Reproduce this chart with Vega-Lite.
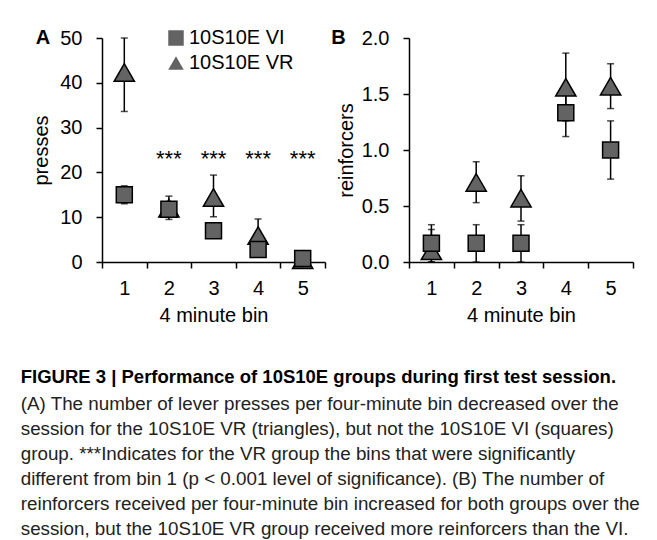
{
  "$schema": "https://vega.github.io/schema/vega-lite/v6.json",
  "background": "white",
  "padding": {"left": 20, "top": 28, "right": 5, "bottom": 5},
  "config": {
    "font": "Liberation Sans",
    "view": {"stroke": null},
    "axis": {
      "domainColor": "black", "tickColor": "black", "labelColor": "black", "titleColor": "black",
      "labelFontSize": 20, "titleFontSize": 20, "titleFontWeight": "normal",
      "labelFont": "Liberation Sans", "titleFont": "Liberation Sans",
      "domainWidth": 1.5, "tickWidth": 1.5, "tickSize": 6, "grid": false
    },
    "legend": {"labelFontSize": 20, "labelFont": "Liberation Sans", "labelColor": "black"}
  },
  "datasets": {
    "presses": [
      {"bin": 1, "group": "10S10E VR", "value": 42.3, "lo": 33.6, "hi": 50.0},
      {"bin": 2, "group": "10S10E VR", "value": 12.0, "lo": 9.5, "hi": 14.7},
      {"bin": 3, "group": "10S10E VR", "value": 14.4, "lo": 10.1, "hi": 19.4},
      {"bin": 4, "group": "10S10E VR", "value": 5.9, "lo": 2.5, "hi": 9.6},
      {"bin": 5, "group": "10S10E VR", "value": 0.5, "lo": 0.0, "hi": 1.2},
      {"bin": 1, "group": "10S10E VI", "value": 15.0, "lo": 13.0, "hi": 17.0},
      {"bin": 2, "group": "10S10E VI", "value": 11.8, "lo": 10.4, "hi": 13.2},
      {"bin": 3, "group": "10S10E VI", "value": 7.0, "lo": 5.8, "hi": 8.2},
      {"bin": 4, "group": "10S10E VI", "value": 2.8, "lo": 1.8, "hi": 3.8},
      {"bin": 5, "group": "10S10E VI", "value": 0.8, "lo": 0.0, "hi": 1.6}
    ],
    "reinforcers": [
      {"bin": 1, "group": "10S10E VR", "value": 0.1, "lo": 0.0, "hi": 0.29},
      {"bin": 2, "group": "10S10E VR", "value": 0.71, "lo": 0.53, "hi": 0.895},
      {"bin": 3, "group": "10S10E VR", "value": 0.57, "lo": 0.365, "hi": 0.77},
      {"bin": 4, "group": "10S10E VR", "value": 1.56, "lo": 1.26, "hi": 1.865},
      {"bin": 5, "group": "10S10E VR", "value": 1.57, "lo": 1.37, "hi": 1.77},
      {"bin": 1, "group": "10S10E VI", "value": 0.167, "lo": 0.0, "hi": 0.333},
      {"bin": 2, "group": "10S10E VI", "value": 0.167, "lo": 0.0, "hi": 0.333},
      {"bin": 3, "group": "10S10E VI", "value": 0.167, "lo": 0.0, "hi": 0.333},
      {"bin": 4, "group": "10S10E VI", "value": 1.333, "lo": 1.12, "hi": 1.55},
      {"bin": 5, "group": "10S10E VI", "value": 1.0, "lo": 0.74, "hi": 1.26}
    ],
    "stars": [
      {"bin": 2, "label": "***"},
      {"bin": 3, "label": "***"},
      {"bin": 4, "label": "***"},
      {"bin": 5, "label": "***"}
    ]
  },
  "title": {
    "text": "FIGURE 3 | Performance of 10S10E groups during first test session.",
    "subtitle": [
      "(A) The number of lever presses per four-minute bin decreased over the",
      "session for the 10S10E VR (triangles), but not the 10S10E VI (squares)",
      "group. ***Indicates for the VR group the bins that were significantly",
      "different from bin 1 (p < 0.001 level of significance). (B) The number of",
      "reinforcers received per four-minute bin increased for both groups over the",
      "session, but the 10S10E VR group received more reinforcers than the VI."
    ],
    "orient": "bottom",
    "anchor": "start",
    "frame": "bounds",
    "font": "Liberation Sans",
    "fontSize": 18.5,
    "fontWeight": "bold",
    "color": "black",
    "subtitleFont": "Liberation Sans",
    "subtitleFontSize": 18.8,
    "subtitleColor": "#222222",
    "subtitleLineHeight": 25,
    "subtitlePadding": 8,
    "offset": 43,
    "dx": -11
  },
  "spacing": 5,
  "resolve": {"scale": {"y": "independent"}, "legend": {"shape": "independent"}},
  "hconcat": [
    {
      "width": 223,
      "height": 224,
      "title": {"text": "A", "anchor": "start", "fontSize": 20, "fontWeight": "bold", "offset": -20, "dx": 4, "color": "black"},
      "data": {"name": "presses"},
      "encoding": {
        "x": {
          "field": "bin", "type": "ordinal",
          "scale": {"type": "band", "paddingInner": 0, "paddingOuter": 0},
          "axis": {"title": "4 minute bin", "labelAngle": 0, "tickBand": "extent", "labelPadding": 10, "titlePadding": 7}
        }
      },
      "layer": [
        {
          "mark": {"type": "rule", "color": "black", "strokeWidth": 1.5},
          "encoding": {
            "y": {"field": "lo", "type": "quantitative"},
            "y2": {"field": "hi"},
            "detail": {"field": "group"}
          }
        },
        {
          "mark": {"type": "tick", "color": "black", "thickness": 1.5, "size": 7, "orient": "horizontal"},
          "encoding": {"y": {"field": "hi", "type": "quantitative"}, "detail": {"field": "group"}}
        },
        {
          "mark": {"type": "tick", "color": "black", "thickness": 1.5, "size": 7, "orient": "horizontal"},
          "encoding": {"y": {"field": "lo", "type": "quantitative"}, "detail": {"field": "group"}}
        },
        {
          "mark": {"type": "point", "filled": true, "fill": "#636363", "stroke": "black", "strokeWidth": 1.5, "opacity": 1},
          "encoding": {
            "y": {
              "field": "value", "type": "quantitative",
              "scale": {"domain": [0, 50], "nice": false},
              "axis": {"title": "presses", "values": [0, 5, 10, 15, 20, 25, 30, 35, 40, 45, 50], "labelExpr": "datum.value % 10 === 0 ? datum.label : ''", "labelPadding": 14, "titlePadding": 8}
            },
            "shape": {
              "field": "group", "type": "nominal",
              "scale": {"domain": ["10S10E VI", "10S10E VR"], "range": ["square", "triangle-up"]},
              "legend": {"title": null, "orient": "none", "legendX": 64, "legendY": -10, "symbolSize": 240, "symbolFillColor": "#636363", "symbolStrokeColor": "black", "symbolStrokeWidth": 1.5, "rowPadding": 4, "labelOffset": 3}
            },
            "size": {
              "field": "group", "type": "nominal",
              "scale": {"domain": ["10S10E VI", "10S10E VR"], "range": [256, 410]},
              "legend": null
            }
          }
        },
        {
          "data": {"name": "stars"},
          "mark": {"type": "text", "fontSize": 22, "color": "black", "baseline": "middle"},
          "encoding": {
            "y": {"datum": 23.0, "type": "quantitative"},
            "text": {"field": "label"}
          }
        }
      ]
    },
    {
      "width": 224,
      "height": 224,
      "title": {"text": "B", "anchor": "start", "fontSize": 20, "fontWeight": "bold", "offset": -20, "dx": -5, "color": "black"},
      "data": {"name": "reinforcers"},
      "encoding": {
        "x": {
          "field": "bin", "type": "ordinal",
          "scale": {"type": "band", "paddingInner": 0, "paddingOuter": 0},
          "axis": {"title": "4 minute bin", "labelAngle": 0, "tickBand": "extent", "labelPadding": 10, "titlePadding": 7}
        }
      },
      "layer": [
        {
          "mark": {"type": "rule", "color": "black", "strokeWidth": 1.5},
          "encoding": {
            "y": {"field": "lo", "type": "quantitative"},
            "y2": {"field": "hi"},
            "detail": {"field": "group"}
          }
        },
        {
          "mark": {"type": "tick", "color": "black", "thickness": 1.5, "size": 7, "orient": "horizontal"},
          "encoding": {"y": {"field": "hi", "type": "quantitative"}, "detail": {"field": "group"}}
        },
        {
          "mark": {"type": "tick", "color": "black", "thickness": 1.5, "size": 7, "orient": "horizontal"},
          "encoding": {"y": {"field": "lo", "type": "quantitative"}, "detail": {"field": "group"}}
        },
        {
          "mark": {"type": "point", "filled": true, "fill": "#636363", "stroke": "black", "strokeWidth": 1.5, "opacity": 1},
          "encoding": {
            "y": {
              "field": "value", "type": "quantitative",
              "scale": {"domain": [0, 2], "nice": false},
              "axis": {"title": "reinforcers", "values": [0, 0.5, 1, 1.5, 2], "format": ".1f", "labelPadding": 14, "titlePadding": 5}
            },
            "shape": {
              "field": "group", "type": "nominal",
              "scale": {"domain": ["10S10E VI", "10S10E VR"], "range": ["square", "triangle-up"]},
              "legend": null
            },
            "size": {
              "field": "group", "type": "nominal",
              "scale": {"domain": ["10S10E VI", "10S10E VR"], "range": [256, 410]},
              "legend": null
            }
          }
        }
      ]
    }
  ]
}
